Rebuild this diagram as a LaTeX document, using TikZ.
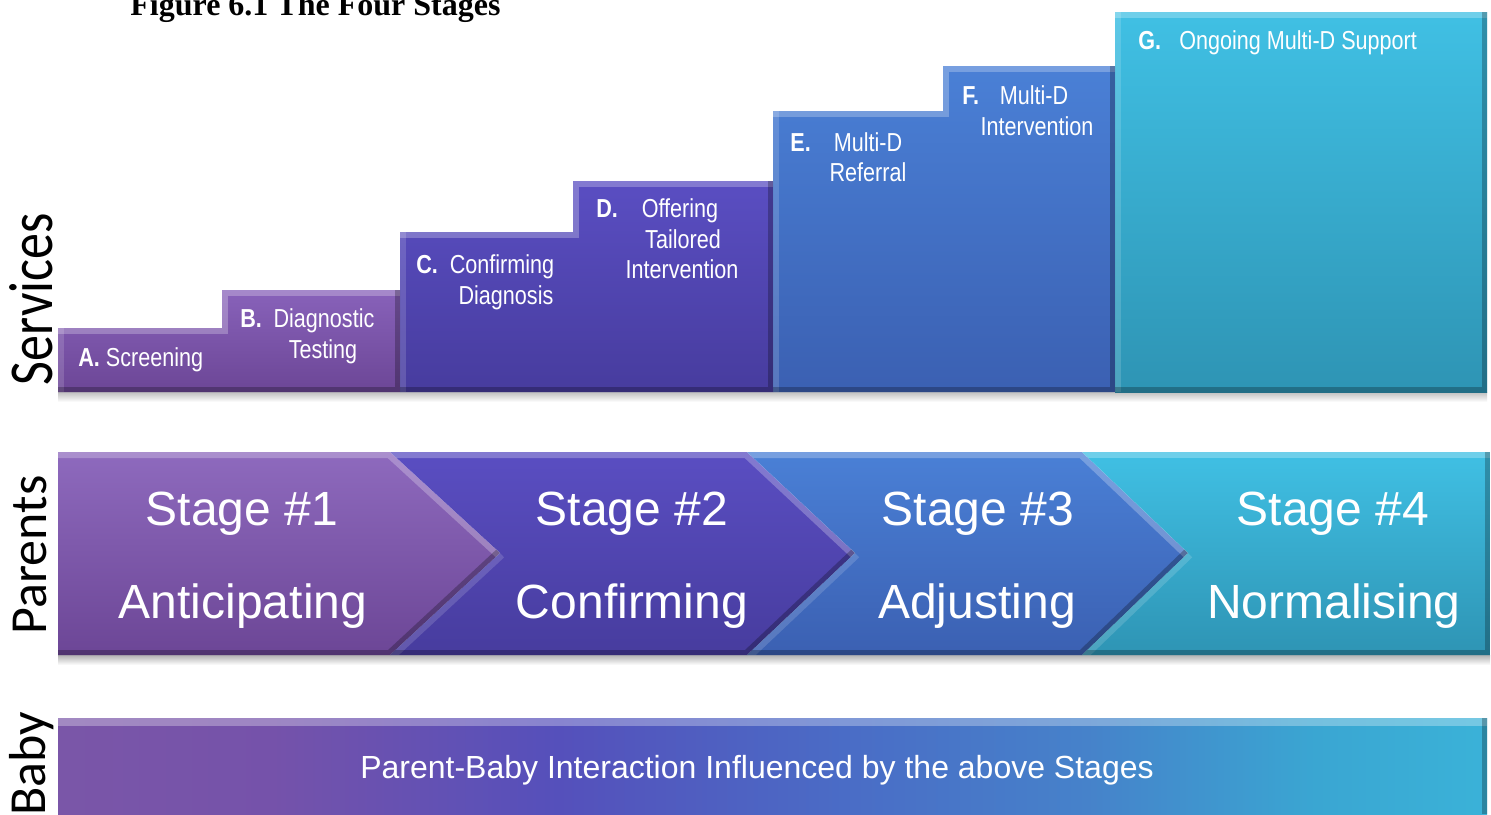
\documentclass[tikz,border=0pt]{standalone}
\usepackage{fontspec}
\setmainfont{Liberation Sans}
\newfontfamily\narrowfont[FakeStretch=0.83]{Liberation Sans}
\newfontfamily\sidefont{Carlito}
\newfontfamily\titlefont{Liberation Serif}
\definecolor{pA}{HTML}{8862BA}\definecolor{pB}{HTML}{6C4696}
\definecolor{iA}{HTML}{5A4EC2}\definecolor{iB}{HTML}{473C9E}
\definecolor{bA}{HTML}{4A80D6}\definecolor{bB}{HTML}{3B60B2}
\definecolor{cA}{HTML}{40C0E4}\definecolor{cB}{HTML}{2E94B4}
\definecolor{k0}{HTML}{7A56A8}\definecolor{k1}{HTML}{7552AA}
\definecolor{k2}{HTML}{5550BB}\definecolor{k3}{HTML}{4A6CC6}
\definecolor{k4}{HTML}{4682CA}\definecolor{k5}{HTML}{3AA6D2}
\definecolor{k6}{HTML}{3AB2D8}
\pgfdeclarehorizontalshading{babyshade}{100bp}{color(0bp)=(k0); color(25bp)=(k0); color(32.5bp)=(k1); color(42.5bp)=(k2); color(52.5bp)=(k3); color(61bp)=(k4); color(69bp)=(k5); color(75bp)=(k6); color(100bp)=(k6)}
\tikzset{
  lbl/.style={font=\narrowfont\fontsize{13}{15}\selectfont, text=white, inner sep=0, anchor=base},
  lblkey/.style={font=\narrowfont\bfseries\fontsize{13}{15}\selectfont, text=white, inner sep=0, anchor=base west},
  stagetxt/.style={font=\fontsize{24}{28}\selectfont, text=white, inner sep=0, anchor=base},
  side/.style={font=\sidefont\fontsize{26}{30}\selectfont, text=black, rotate=90, anchor=base, inner sep=0},
  litedge/.style={white,opacity=0.25,line width=6pt,line join=miter},
  softedge/.style={white,opacity=0.15,line width=6pt},
  darkedge/.style={black,opacity=0.25,line width=5pt,line join=miter},
}
\begin{document}
\begin{tikzpicture}[x=0.5pt,y=-0.5pt]
\useasboundingbox (0,0) rectangle (1491,814);
\fill[white] (0,0) rectangle (1491,814);
% title
\node[font=\titlefont\bfseries\fontsize{16}{19}\selectfont, anchor=base west, inner sep=0] (title) at (130,15) {Figure 6.1 The Four Stages};
% side labels
\node[side] (services) at (52,299) {\scalebox{1}[1.2]{Services}};
\node[side] (parents) at (46,555) {Parents};
\node[side] (baby) at (45,764) {Baby};
% shadows
\shade[top color=black!25, bottom color=white] (58,392) rectangle (1487,402);
\shade[top color=black!30, bottom color=white] (58,655) rectangle (1490,665);
% service steps
\def\stAB{(58,328) -- (222,328) -- (222,290) -- (400,290) -- (400,392) -- (58,392) -- cycle}
\def\stCD{(400,232) -- (573,232) -- (573,181) -- (773,181) -- (773,392) -- (400,392) -- cycle}
\def\stEF{(773,111) -- (943,111) -- (943,66) -- (1115,66) -- (1115,392) -- (773,392) -- cycle}
\def\stG{(1115,12) -- (1487,12) -- (1487,392) -- (1115,392) -- cycle}
\shade[top color=pA, bottom color=pB] \stAB;
\shade[top color=iA, bottom color=iB] \stCD;
\shade[top color=bA, bottom color=bB] \stEF;
\shade[top color=cA, bottom color=cB] \stG;
\begin{scope}
\clip \stAB;
\draw[litedge] (58,328) -- (222,328) -- (222,290) -- (400,290);
\draw[softedge] (58,392) -- (58,328);
\draw[darkedge] (400,290) -- (400,392) -- (58,392);
\end{scope}
\begin{scope}
\clip \stCD;
\draw[litedge] (400,232) -- (573,232) -- (573,181) -- (773,181);
\draw[softedge] (400,392) -- (400,232);
\draw[darkedge] (773,181) -- (773,392) -- (400,392);
\end{scope}
\begin{scope}
\clip \stEF;
\draw[litedge] (773,111) -- (943,111) -- (943,66) -- (1115,66);
\draw[softedge] (773,392) -- (773,111);
\draw[darkedge] (1115,66) -- (1115,392) -- (773,392);
\end{scope}
\begin{scope}
\clip \stG;
\draw[litedge] (1115,12) -- (1487,12);
\draw[softedge] (1115,392) -- (1115,12);
\draw[darkedge] (1487,12) -- (1487,392) -- (1115,392);
\end{scope}
% step labels
\node[lblkey] (la) at (78,366) {A.\ \mdseries Screening};
\node[lblkey] (lb) at (240,327) {B.};
\node[lbl] (lb1) at (324,327) {Diagnostic};
\node[lbl] (lb2) at (323,358) {Testing};
\node[lblkey] (lc) at (416,273) {C.};
\node[lbl] (lc1) at (502,273) {Confirming};
\node[lbl] (lc2) at (506,304) {Diagnosis};
\node[lblkey] (ld) at (596,217) {D.};
\node[lbl] (ld1) at (680,217) {Offering};
\node[lbl] (ld2) at (683,248) {Tailored};
\node[lbl] (ld3) at (682,278) {Intervention};
\node[lblkey] (le) at (790,151) {E.};
\node[lbl] (le1) at (868,151) {Multi-D};
\node[lbl] (le2) at (868,181) {Referral};
\node[lblkey] (lf) at (962,104) {F.};
\node[lbl] (lf1) at (1034,104) {Multi-D};
\node[lbl] (lf2) at (1037,135) {Intervention};
\node[lblkey] (lg) at (1138,49) {G.};
\node[lbl, anchor=base west] (lg1) at (1179,49) {Ongoing Multi-D Support};
% chevrons
\def\chevA{(58,452) -- (390,452) -- (500,553) -- (390,655) -- (58,655) -- cycle}
\def\chevB{(390,452) -- (747,452) -- (855,553) -- (747,655) -- (390,655) -- (500,553) -- cycle}
\def\chevC{(747,452) -- (1082,452) -- (1188,553) -- (1082,655) -- (747,655) -- (855,553) -- cycle}
\def\chevD{(1082,452) -- (1490,452) -- (1490,655) -- (1082,655) -- (1188,553) -- cycle}
\shade[top color=pA!95!white, bottom color=pB] \chevA;
\shade[top color=iA, bottom color=iB] \chevB;
\shade[top color=bA, bottom color=bB] \chevC;
\shade[top color=cA, bottom color=cB] \chevD;
\begin{scope}
\clip \chevA;
\draw[litedge] (58,452) -- (390,452) -- (500,553);
\draw[darkedge] (500,553) -- (390,655) -- (58,655);
\end{scope}
\begin{scope}
\clip \chevB;
\draw[litedge] (390,452) -- (747,452) -- (855,553);
\draw[softedge] (500,553) -- (390,655);
\draw[darkedge] (855,553) -- (747,655) -- (390,655);
\end{scope}
\begin{scope}
\clip \chevC;
\draw[litedge] (747,452) -- (1082,452) -- (1188,553);
\draw[softedge] (855,553) -- (747,655);
\draw[darkedge] (1188,553) -- (1082,655) -- (747,655);
\end{scope}
\begin{scope}
\clip \chevD;
\draw[litedge] (1082,452) -- (1490,452);
\draw[softedge] (1188,553) -- (1082,655);
\draw[darkedge] (1490,452) -- (1490,655) -- (1082,655);
\end{scope}
% stage texts
\node[stagetxt] (s1) at (242,525) {Stage \#1};
\node[stagetxt] (s1b) at (243,618) {Anticipating};
\node[stagetxt] (s2) at (632,525) {Stage \#2};
\node[stagetxt] (s2b) at (632,618) {Confirming};
\node[stagetxt] (s3) at (978,525) {Stage \#3};
\node[stagetxt] (s3b) at (977,618) {Adjusting};
\node[stagetxt] (s4) at (1333,525) {Stage \#4};
\node[stagetxt] (s4b) at (1334,618) {Normalising};
% baby bar
\def\babybar{(58,718) -- (1487,718) -- (1487,814) -- (58,814) -- cycle}
\shade[shading=babyshade] \babybar;
\begin{scope}
\clip \babybar;
\draw[white,opacity=0.3,line width=8pt] (58,718) -- (1487,718);
\draw[darkedge] (1487,718) -- (1487,814);
\end{scope}
\node[font=\fontsize{16}{19}\selectfont, text=white, inner sep=0, anchor=base] (babytxt) at (757,778) {Parent-Baby Interaction Influenced by the above Stages};
\end{tikzpicture}
\end{document}
